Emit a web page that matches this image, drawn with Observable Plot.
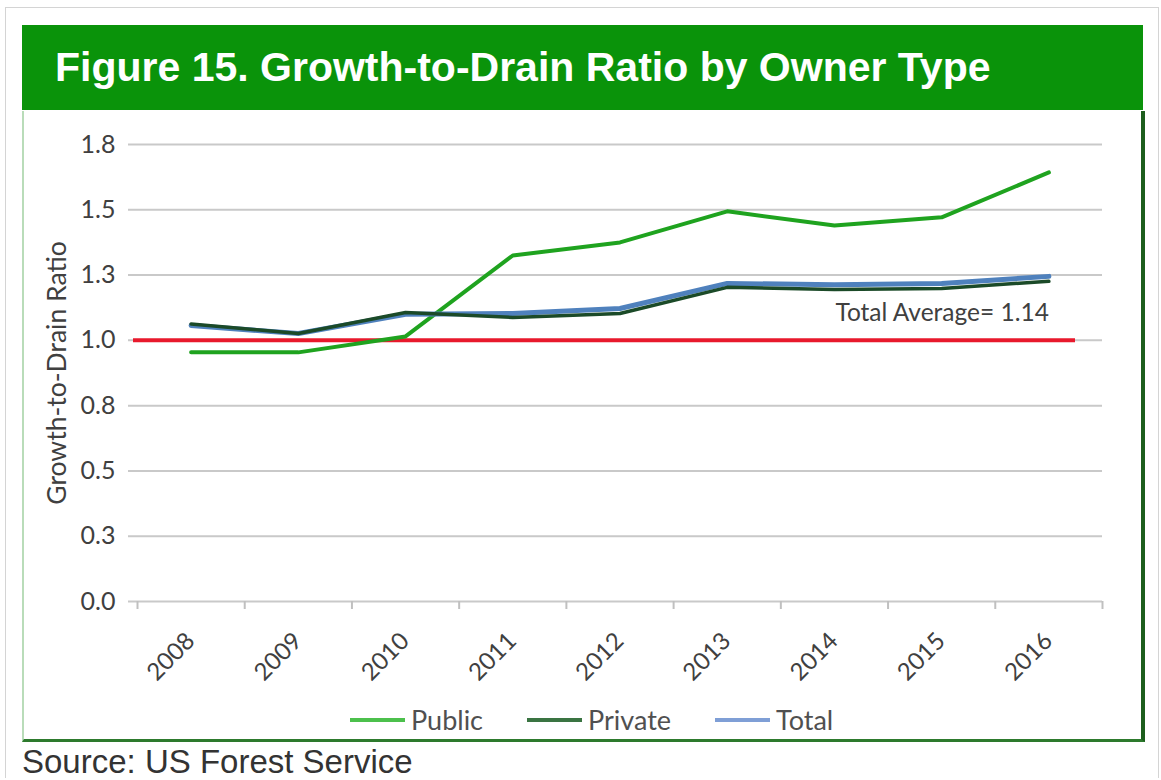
<!DOCTYPE html>
<html><head><meta charset="utf-8">
<script src="https://cdn.jsdelivr.net/npm/d3@7"></script>
<script src="https://cdn.jsdelivr.net/npm/@observablehq/plot@0.6"></script>
<style>
body{margin:0;background:#fff;width:1161px;height:780px;position:relative;overflow:hidden;font-family:Lato,"Open Sans",sans-serif}
#outer{position:absolute;left:5px;top:7px;width:1152px;height:770px;border:1px solid #d4d4d4;border-bottom:none}
#header{position:absolute;left:22px;top:25px;width:1121px;height:85px;background:#0a930a}
#title{position:absolute;left:33px;top:0;color:#fff;font:bold 41px "Liberation Sans",Arial,sans-serif;line-height:85px;white-space:nowrap}
#panel{position:absolute;left:22px;top:111px;width:1117px;height:628px;border-left:2px solid #b9dcb9;border-right:4px solid #1d5e1d;border-bottom:3px solid #2d7a2d;background:#fff}
#chart{position:absolute;left:0;top:0}
#legend{position:absolute;left:0;top:592px;width:1117px;display:flex;justify-content:flex-start;gap:44px;font:27px Lato,sans-serif;color:#505050;padding-left:326px;box-sizing:border-box}
#legend span{display:flex;align-items:center}
#legend i{display:inline-block;width:55px;height:4px;margin-right:6px}
#source{position:absolute;left:22px;top:745px;font:33px "Liberation Sans",Arial,sans-serif;line-height:33px;color:#333;white-space:nowrap}
</style></head>
<body>
<div id="outer"></div>
<div id="header"><div id="title">Figure 15. Growth-to-Drain Ratio by Owner Type</div></div>
<div id="panel"><div id="chart"></div><div id="legend"></div></div>
<div id="source">Source: US Forest Service</div>
<script>
const years = [2008, 2009, 2010, 2011, 2012, 2013, 2014, 2015, 2016];
const publicVals  = [0.954, 0.954, 1.015, 1.325, 1.375, 1.494, 1.440, 1.471, 1.643];
const privateVals = [1.063, 1.026, 1.107, 1.088, 1.103, 1.203, 1.195, 1.199, 1.226];
const totalVals   = [1.057, 1.026, 1.100, 1.103, 1.122, 1.218, 1.213, 1.218, 1.245];
const seriesNames = ["Public", "Private", "Total"];
const seriesColors = ["#1fa31f", "#1b4a28", "#4f81bd"];
const legendColors = ["#4cc04c", "#3a7442", "#7f9fd6"];
const yTicks = [0, 0.25, 0.5, 0.75, 1.0, 1.25, 1.5, 1.75];
const yTickLabels = ["0.0", "0.3", "0.5", "0.8", "1.0", "1.3", "1.5", "1.8"];
const refValue = 1.0;
const annotation = [{label: "Total Average= 1.14", year: 2016, value: 1.105}];
const yLabel = "Growth-to-Drain Ratio";

const rows = (vals, name) => years.map((yr, i) => ({year: yr, value: vals[i], series: name}));
const publicData = rows(publicVals, "Public");
const privateData = rows(privateVals, "Private");
const totalData = rows(totalVals, "Total");
const bounds = years.map(y => y - 0.5).concat([years[years.length - 1] + 0.5]);

const chart = Plot.plot({
  width: 1117, height: 580,
  marginLeft: 113, marginRight: 39, marginTop: 33, marginBottom: 90,
  x: {type: "linear", domain: [bounds[0], bounds[bounds.length - 1]], label: null},
  y: {domain: [0, 1.75], label: null},
  style: {fontFamily: "Lato, sans-serif", color: "#404040", background: "#fff"},
  marks: [
    Plot.ruleY(yTicks, {stroke: "#c9c9c9", strokeWidth: 2, insetLeft: -9}),
    Plot.axisX({ticks: bounds, tickSize: 8, tickFormat: () => "", stroke: "#c0c0c0", strokeWidth: 2, label: null}),
    Plot.axisY({ticks: yTicks, tickSize: 0, tickPadding: 22, fontSize: 25, fill: "#404040",
      tickFormat: d => yTickLabels[yTicks.indexOf(d)], label: null}),
    Plot.text(years, {x: d => d, frameAnchor: "bottom", dx: 5, dy: 41, rotate: -45, textAnchor: "end",
      fontSize: 24, fill: "#404040", text: d => String(d)}),
    Plot.text([yLabel], {frameAnchor: "left", dx: -80, rotate: -90, textAnchor: "middle", fontSize: 26.5, fill: "#404040"}),
    Plot.ruleY([refValue], {stroke: "#e8192c", strokeWidth: 4, insetLeft: -4, insetRight: 27}),
    Plot.line(publicData, {x: "year", y: "value", stroke: seriesColors[0], strokeWidth: 4}),
    Plot.line(totalData, {x: "year", y: "value", stroke: seriesColors[2], strokeWidth: 5}),
    Plot.line(privateData, {x: "year", y: "value", stroke: seriesColors[1], strokeWidth: 3.5}),
    Plot.text(annotation, {x: "year", y: "value", text: "label", textAnchor: "end", fontSize: 24.5, fill: "#404040"})
  ]
});
document.getElementById("chart").appendChild(chart);

const legend = document.getElementById("legend");
seriesNames.forEach((name, i) => {
  const s = document.createElement("span");
  s.innerHTML = `<i style="background:${legendColors[i]}"></i>${name}`;
  legend.appendChild(s);
});
</script>
</body></html>
